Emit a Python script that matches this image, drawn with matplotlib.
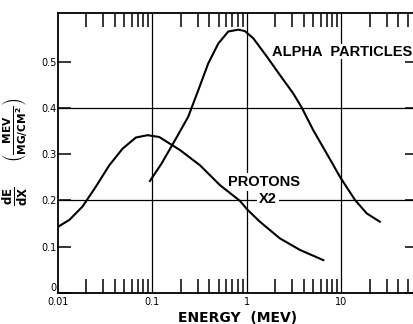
import matplotlib
matplotlib.use('Agg')
import matplotlib.pyplot as plt
from matplotlib.ticker import FixedLocator, NullFormatter

# data (energy in MeV, dE/dX in MeV/(mg/cm^2))
proton_e = [0.01, 0.0132, 0.0182, 0.0252, 0.0349, 0.0483, 0.0668, 0.0889, 0.118,
            0.195, 0.318, 0.518, 0.843, 1.0, 1.37, 2.23, 3.64, 6.43]
proton_dedx = [0.143, 0.158, 0.187, 0.230, 0.276, 0.312, 0.336, 0.341, 0.337,
               0.309, 0.276, 0.233, 0.199, 0.181, 0.154, 0.118, 0.093, 0.071]

alpha_e = [0.094, 0.125, 0.173, 0.239, 0.305, 0.389, 0.497, 0.634,
           0.809, 0.95, 1.17, 1.62, 2.23, 3.09, 3.79, 5.02, 6.95, 9.64, 13.9,
           18.5, 25.5]
alpha_dedx = [0.242, 0.280, 0.330, 0.381, 0.438, 0.496, 0.539, 0.565,
              0.569, 0.566, 0.550, 0.511, 0.471, 0.431, 0.401, 0.352, 0.302, 0.251,
              0.201, 0.172, 0.154]

xticks = [0.01, 0.1, 1, 10]
xticklabels = ['0.01', '0.1', '1', '10']
yticks = [0, 0.1, 0.2, 0.3, 0.4, 0.5]
yticklabels = ['0', '0.1', '0.2', '0.3', '0.4', '0.5']
xgrid = [0.1, 1, 10]
ygrid = [0.2, 0.4]

W, H = 414, 324
fig = plt.figure(figsize=(W / 100, H / 100), dpi=100)
ax = fig.add_axes([58 / W, (H - 293) / H, (417 - 58) / W, (293 - 13) / H])

ax.set_xscale('log')
ax.set_xlim(0.01, 63)
ax.set_ylim(0, 0.605)

for x in xgrid:
    ax.axvline(x, color='black', lw=0.9, zorder=1)
for y in ygrid:
    ax.axhline(y, color='black', lw=0.9, zorder=1)

ax.plot(proton_e, proton_dedx, color='black', lw=1.5, zorder=3)
ax.plot(alpha_e, alpha_dedx, color='black', lw=1.5, zorder=3)

bb = dict(facecolor='white', edgecolor='none', pad=1.5)
lib = ['Liberation Sans', 'DejaVu Sans']
ax.text(1.51, 0.240, 'PROTONS', family=lib, fontsize=10.5, fontweight='bold',
        ha='center', va='center', bbox=bb, zorder=2)
ax.text(1.66, 0.203, 'X2', family=lib, fontsize=10.5, fontweight='bold',
        ha='center', va='center', bbox=bb, zorder=2)
ax.text(1.84, 0.521, 'ALPHA  PARTICLES', family=lib,
        fontsize=10.5, fontweight='bold', ha='left', va='center',
        bbox=dict(facecolor='white', edgecolor='none', pad=0.3), zorder=2)

ax.xaxis.set_major_locator(FixedLocator(xticks))
ax.set_xticklabels(xticklabels)
minors = [m * d for d in [0.01, 0.1, 1, 10] for m in range(2, 10)]
ax.xaxis.set_minor_locator(FixedLocator(minors))
ax.xaxis.set_minor_formatter(NullFormatter())
ax.tick_params(axis='x', which='major', length=0, labelsize=7, pad=3)
ax.tick_params(axis='x', which='minor', direction='in', length=10, width=1.1,
               top=True, bottom=True)

ax.set_yticks(yticks)
ax.set_yticklabels(yticklabels)
ax.tick_params(axis='y', which='major', direction='in', length=9, width=1.1,
               left=True, right=True, labelsize=7, pad=1)
ax.get_yticklabels()[0].set_verticalalignment('bottom')

for s in ax.spines.values():
    s.set_linewidth(1.3)

ax.set_xlabel('ENERGY  (MEV)', fontsize=10, fontweight='bold', labelpad=3)

plt.rcParams['mathtext.default'] = 'bf'
fig.text(15 / W, 1 - 196 / H, r'$\frac{dE}{dX}$', rotation=90, fontsize=12,
         ha='center', va='center')
fig.text(15 / W, 1 - 130 / H, r'$\left(\frac{MEV}{MG/CM^2}\right)$', rotation=90,
         fontsize=11, ha='center', va='center')

fig.savefig('out.png', dpi=100)
